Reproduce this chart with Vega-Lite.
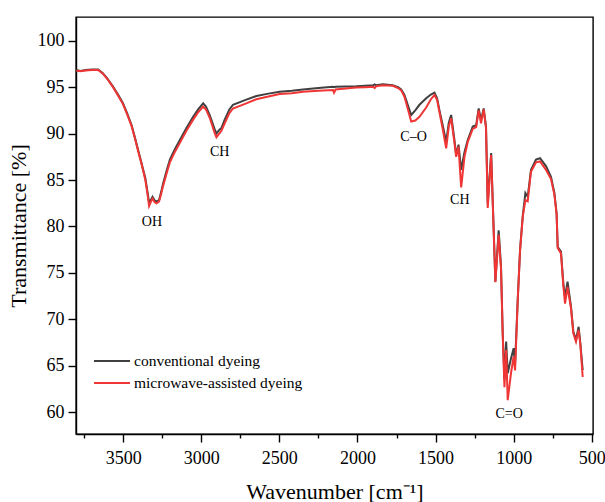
{
  "$schema": "https://vega.github.io/schema/vega-lite/v6.json",
  "width": 517,
  "height": 417,
  "autosize": {"type": "none"},
  "padding": {"left": 76, "top": 17, "right": 12, "bottom": 68},
  "background": "white",
  "config": {
    "view": {"stroke": "black", "strokeWidth": 1.4},
    "axis": {
      "grid": false,
      "domainColor": "black",
      "domainWidth": 1.4,
      "tickColor": "black",
      "tickWidth": 1.4,
      "labelColor": "black",
      "titleColor": "black",
      "labelFont": "Liberation Serif",
      "titleFont": "Liberation Serif",
      "labelFontSize": 18,
      "titleFontSize": 22,
      "titleFontWeight": "normal"
    },
    "legend": {"labelFont": "Liberation Serif", "labelFontSize": 15.5, "labelColor": "black", "labelLimit": 0}
  },
  "datasets": {
    "ir": [
      {"wn": 3800, "conventional dyeing": 96.85, "microwave-assisted dyeing": 96.8},
      {"wn": 3775, "conventional dyeing": 96.75, "microwave-assisted dyeing": 96.7},
      {"wn": 3740, "conventional dyeing": 96.85, "microwave-assisted dyeing": 96.8},
      {"wn": 3700, "conventional dyeing": 96.9, "microwave-assisted dyeing": 96.85},
      {"wn": 3660, "conventional dyeing": 96.9, "microwave-assisted dyeing": 96.85},
      {"wn": 3630, "conventional dyeing": 96.5, "microwave-assisted dyeing": 96.45},
      {"wn": 3600, "conventional dyeing": 95.9, "microwave-assisted dyeing": 95.85},
      {"wn": 3565, "conventional dyeing": 95.05, "microwave-assisted dyeing": 95.0},
      {"wn": 3535, "conventional dyeing": 94.25, "microwave-assisted dyeing": 94.15},
      {"wn": 3502, "conventional dyeing": 93.3, "microwave-assisted dyeing": 93.2},
      {"wn": 3475, "conventional dyeing": 92.2, "microwave-assisted dyeing": 92.1},
      {"wn": 3446, "conventional dyeing": 90.9, "microwave-assisted dyeing": 90.8},
      {"wn": 3425, "conventional dyeing": 89.6, "microwave-assisted dyeing": 89.5},
      {"wn": 3404, "conventional dyeing": 88.2, "microwave-assisted dyeing": 88.1},
      {"wn": 3385, "conventional dyeing": 87.0, "microwave-assisted dyeing": 86.9},
      {"wn": 3372, "conventional dyeing": 86.1, "microwave-assisted dyeing": 86.0},
      {"wn": 3358, "conventional dyeing": 85.2, "microwave-assisted dyeing": 85.0},
      {"wn": 3346, "conventional dyeing": 83.9, "microwave-assisted dyeing": 83.7},
      {"wn": 3334, "conventional dyeing": 82.6, "microwave-assisted dyeing": 82.2},
      {"wn": 3324, "conventional dyeing": 82.8, "microwave-assisted dyeing": 82.6},
      {"wn": 3312, "conventional dyeing": 83.2, "microwave-assisted dyeing": 83.0},
      {"wn": 3298, "conventional dyeing": 82.8, "microwave-assisted dyeing": 82.6},
      {"wn": 3286, "conventional dyeing": 82.65, "microwave-assisted dyeing": 82.5},
      {"wn": 3270, "conventional dyeing": 82.85, "microwave-assisted dyeing": 82.7},
      {"wn": 3257, "conventional dyeing": 83.7, "microwave-assisted dyeing": 83.5},
      {"wn": 3244, "conventional dyeing": 84.65, "microwave-assisted dyeing": 84.4},
      {"wn": 3222, "conventional dyeing": 86.0, "microwave-assisted dyeing": 85.7},
      {"wn": 3201, "conventional dyeing": 87.2, "microwave-assisted dyeing": 86.9},
      {"wn": 3170, "conventional dyeing": 88.3, "microwave-assisted dyeing": 88.0},
      {"wn": 3137, "conventional dyeing": 89.3, "microwave-assisted dyeing": 89.0},
      {"wn": 3095, "conventional dyeing": 90.6, "microwave-assisted dyeing": 90.3},
      {"wn": 3052, "conventional dyeing": 91.8, "microwave-assisted dyeing": 91.5},
      {"wn": 3020, "conventional dyeing": 92.6, "microwave-assisted dyeing": 92.3},
      {"wn": 2988, "conventional dyeing": 93.26, "microwave-assisted dyeing": 92.9},
      {"wn": 2970, "conventional dyeing": 92.9, "microwave-assisted dyeing": 92.6},
      {"wn": 2946, "conventional dyeing": 92.0, "microwave-assisted dyeing": 91.7},
      {"wn": 2915, "conventional dyeing": 90.5, "microwave-assisted dyeing": 90.1},
      {"wn": 2903, "conventional dyeing": 90.0, "microwave-assisted dyeing": 89.6},
      {"wn": 2885, "conventional dyeing": 90.4, "microwave-assisted dyeing": 90.0},
      {"wn": 2871, "conventional dyeing": 90.6, "microwave-assisted dyeing": 90.3},
      {"wn": 2850, "conventional dyeing": 91.5, "microwave-assisted dyeing": 91.1},
      {"wn": 2820, "conventional dyeing": 92.6, "microwave-assisted dyeing": 92.2},
      {"wn": 2797, "conventional dyeing": 93.1, "microwave-assisted dyeing": 92.7},
      {"wn": 2720, "conventional dyeing": 93.6, "microwave-assisted dyeing": 93.2},
      {"wn": 2647, "conventional dyeing": 94.05, "microwave-assisted dyeing": 93.7},
      {"wn": 2570, "conventional dyeing": 94.3, "microwave-assisted dyeing": 94.0},
      {"wn": 2498, "conventional dyeing": 94.5, "microwave-assisted dyeing": 94.25},
      {"wn": 2420, "conventional dyeing": 94.6, "microwave-assisted dyeing": 94.35},
      {"wn": 2349, "conventional dyeing": 94.75, "microwave-assisted dyeing": 94.5},
      {"wn": 2250, "conventional dyeing": 94.9, "microwave-assisted dyeing": 94.6},
      {"wn": 2157, "conventional dyeing": 95.05, "microwave-assisted dyeing": 94.7},
      {"wn": 2150, "conventional dyeing": 95.0, "microwave-assisted dyeing": 94.4},
      {"wn": 2140, "conventional dyeing": 95.05, "microwave-assisted dyeing": 94.75},
      {"wn": 2008, "conventional dyeing": 95.1, "microwave-assisted dyeing": 94.95},
      {"wn": 1950, "conventional dyeing": 95.15, "microwave-assisted dyeing": 95.0},
      {"wn": 1900, "conventional dyeing": 95.2, "microwave-assisted dyeing": 95.05},
      {"wn": 1890, "conventional dyeing": 95.3, "microwave-assisted dyeing": 94.9},
      {"wn": 1880, "conventional dyeing": 95.2, "microwave-assisted dyeing": 95.1},
      {"wn": 1838, "conventional dyeing": 95.3, "microwave-assisted dyeing": 95.2},
      {"wn": 1774, "conventional dyeing": 95.2, "microwave-assisted dyeing": 95.15},
      {"wn": 1740, "conventional dyeing": 95.0, "microwave-assisted dyeing": 94.9},
      {"wn": 1720, "conventional dyeing": 94.75, "microwave-assisted dyeing": 94.65},
      {"wn": 1700, "conventional dyeing": 94.2, "microwave-assisted dyeing": 94.0},
      {"wn": 1688, "conventional dyeing": 93.6, "microwave-assisted dyeing": 93.3},
      {"wn": 1670, "conventional dyeing": 92.7, "microwave-assisted dyeing": 92.2},
      {"wn": 1656, "conventional dyeing": 92.0, "microwave-assisted dyeing": 91.3},
      {"wn": 1630, "conventional dyeing": 92.5, "microwave-assisted dyeing": 91.4},
      {"wn": 1603, "conventional dyeing": 93.1, "microwave-assisted dyeing": 91.8},
      {"wn": 1560, "conventional dyeing": 93.8, "microwave-assisted dyeing": 92.8},
      {"wn": 1530, "conventional dyeing": 94.2, "microwave-assisted dyeing": 93.7},
      {"wn": 1507, "conventional dyeing": 94.4, "microwave-assisted dyeing": 94.15},
      {"wn": 1490, "conventional dyeing": 93.8, "microwave-assisted dyeing": 93.6},
      {"wn": 1475, "conventional dyeing": 92.5, "microwave-assisted dyeing": 92.3},
      {"wn": 1454, "conventional dyeing": 90.9, "microwave-assisted dyeing": 90.5},
      {"wn": 1432, "conventional dyeing": 89.1, "microwave-assisted dyeing": 88.4},
      {"wn": 1415, "conventional dyeing": 91.2, "microwave-assisted dyeing": 90.8},
      {"wn": 1400, "conventional dyeing": 92.0, "microwave-assisted dyeing": 91.65},
      {"wn": 1379, "conventional dyeing": 89.3, "microwave-assisted dyeing": 89.0},
      {"wn": 1368, "conventional dyeing": 87.7, "microwave-assisted dyeing": 87.5},
      {"wn": 1353, "conventional dyeing": 88.8, "microwave-assisted dyeing": 88.6},
      {"wn": 1336, "conventional dyeing": 86.1, "microwave-assisted dyeing": 84.2},
      {"wn": 1315, "conventional dyeing": 88.0, "microwave-assisted dyeing": 87.5},
      {"wn": 1294, "conventional dyeing": 89.3, "microwave-assisted dyeing": 89.1},
      {"wn": 1262, "conventional dyeing": 90.75, "microwave-assisted dyeing": 90.5},
      {"wn": 1240, "conventional dyeing": 90.9, "microwave-assisted dyeing": 90.7},
      {"wn": 1224, "conventional dyeing": 92.7, "microwave-assisted dyeing": 92.5},
      {"wn": 1209, "conventional dyeing": 91.45, "microwave-assisted dyeing": 91.1},
      {"wn": 1192, "conventional dyeing": 92.7, "microwave-assisted dyeing": 92.6},
      {"wn": 1177, "conventional dyeing": 90.75, "microwave-assisted dyeing": 90.6},
      {"wn": 1166, "conventional dyeing": 82.5, "microwave-assisted dyeing": 82.0},
      {"wn": 1144, "conventional dyeing": 87.9, "microwave-assisted dyeing": 87.7},
      {"wn": 1134, "conventional dyeing": 82.8, "microwave-assisted dyeing": 82.6},
      {"wn": 1117, "conventional dyeing": 74.05, "microwave-assisted dyeing": 74.0},
      {"wn": 1096, "conventional dyeing": 79.6, "microwave-assisted dyeing": 79.1},
      {"wn": 1081, "conventional dyeing": 75.7, "microwave-assisted dyeing": 75.5},
      {"wn": 1070, "conventional dyeing": 68.5, "microwave-assisted dyeing": 68.3},
      {"wn": 1059, "conventional dyeing": 63.5, "microwave-assisted dyeing": 62.7},
      {"wn": 1048, "conventional dyeing": 67.6, "microwave-assisted dyeing": 66.7},
      {"wn": 1038, "conventional dyeing": 64.2, "microwave-assisted dyeing": 61.3},
      {"wn": 1017, "conventional dyeing": 65.8, "microwave-assisted dyeing": 64.2},
      {"wn": 1000, "conventional dyeing": 66.9, "microwave-assisted dyeing": 66.0},
      {"wn": 991, "conventional dyeing": 65.2, "microwave-assisted dyeing": 64.5},
      {"wn": 974, "conventional dyeing": 72.1, "microwave-assisted dyeing": 72.0},
      {"wn": 959, "conventional dyeing": 77.5, "microwave-assisted dyeing": 77.4},
      {"wn": 942, "conventional dyeing": 81.1, "microwave-assisted dyeing": 81.0},
      {"wn": 925, "conventional dyeing": 83.6, "microwave-assisted dyeing": 82.85},
      {"wn": 910, "conventional dyeing": 83.2, "microwave-assisted dyeing": 82.7},
      {"wn": 889, "conventional dyeing": 86.1, "microwave-assisted dyeing": 85.9},
      {"wn": 857, "conventional dyeing": 87.2, "microwave-assisted dyeing": 86.9},
      {"wn": 831, "conventional dyeing": 87.35, "microwave-assisted dyeing": 87.0},
      {"wn": 793, "conventional dyeing": 86.5, "microwave-assisted dyeing": 86.1},
      {"wn": 761, "conventional dyeing": 85.35, "microwave-assisted dyeing": 85.1},
      {"wn": 739, "conventional dyeing": 83.6, "microwave-assisted dyeing": 83.4},
      {"wn": 725, "conventional dyeing": 81.4, "microwave-assisted dyeing": 81.3},
      {"wn": 718, "conventional dyeing": 77.8, "microwave-assisted dyeing": 77.7},
      {"wn": 697, "conventional dyeing": 77.3, "microwave-assisted dyeing": 77.1},
      {"wn": 682, "conventional dyeing": 73.9, "microwave-assisted dyeing": 73.6},
      {"wn": 671, "conventional dyeing": 72.4, "microwave-assisted dyeing": 71.7},
      {"wn": 655, "conventional dyeing": 74.05, "microwave-assisted dyeing": 73.5},
      {"wn": 633, "conventional dyeing": 71.4, "microwave-assisted dyeing": 71.2},
      {"wn": 618, "conventional dyeing": 68.7, "microwave-assisted dyeing": 68.5},
      {"wn": 601, "conventional dyeing": 67.8, "microwave-assisted dyeing": 67.6},
      {"wn": 584, "conventional dyeing": 69.2, "microwave-assisted dyeing": 68.85},
      {"wn": 573, "conventional dyeing": 67.4, "microwave-assisted dyeing": 67.3},
      {"wn": 558, "conventional dyeing": 64.55, "microwave-assisted dyeing": 63.8}
    ],
    "labels": [
      {"label": "OH", "wn": 3316, "T": 80.5},
      {"label": "CH", "wn": 2882, "T": 88.0},
      {"label": "C–O", "wn": 1641, "T": 89.6},
      {"label": "CH", "wn": 1345, "T": 82.8},
      {"label": "C=O", "wn": 1029, "T": 59.8}
    ]
  },
  "layer": [
    {
      "data": {"name": "ir"},
      "mark": {"type": "line", "strokeWidth": 2},
      "encoding": {
        "x": {
          "field": "wn", "type": "quantitative",
          "scale": {"domain": [492, 3802], "reverse": true, "nice": false, "zero": false},
          "axis": {
            "orient": "bottom",
            "title": "Wavenumber [cm⁻¹]",
            "format": "d",
            "values": [500, 1000, 1500, 2000, 2500, 3000, 3500],
            "tickSize": 8,
            "labelPadding": 7,
            "titlePadding": 14
          }
        },
        "y": {
          "field": "conventional dyeing", "type": "quantitative",
          "scale": {"domain": [57.66, 102.55], "nice": false, "zero": false},
          "axis": {
            "title": "Transmittance [%]",
            "values": [60, 65, 70, 75, 80, 85, 90, 95, 100],
            "tickSize": 8,
            "labelPadding": 4,
            "titlePadding": 7
          }
        },
        "color": {
          "datum": "conventional dyeing",
          "scale": {"domain": ["conventional dyeing", "microwave-assisted dyeing"], "range": ["#404040", "#f03535"]},
          "legend": {
            "title": null,
            "orient": "none",
            "legendX": 26,
            "legendY": 334,
            "symbolType": "M-2,0H2",
            "symbolSize": 324,
            "symbolStrokeWidth": 2,
            "symbolFillColor": "transparent",
            "labelOffset": 12,
            "rowPadding": 3
          }
        }
      }
    },
    {
      "data": {"name": "ir"},
      "mark": {"type": "line", "strokeWidth": 2},
      "encoding": {
        "x": {
          "field": "wn", "type": "quantitative",
          "axis": {
            "orient": "bottom",
            "title": null,
            "labels": false,
            "domain": false,
            "values": [750, 1250, 1750, 2250, 2750, 3250, 3750],
            "tickSize": 4
          }
        },
        "y": {"field": "microwave-assisted dyeing", "type": "quantitative"},
        "color": {"datum": "microwave-assisted dyeing"}
      }
    },
    {
      "data": {"name": "labels"},
      "mark": {"type": "text", "font": "Liberation Serif", "fontSize": 14, "color": "black", "align": "center", "baseline": "middle"},
      "encoding": {
        "x": {"field": "wn", "type": "quantitative", "axis": null},
        "y": {"field": "T", "type": "quantitative"},
        "text": {"field": "label"}
      }
    }
  ],
  "resolve": {"axis": {"x": "independent"}}
}
